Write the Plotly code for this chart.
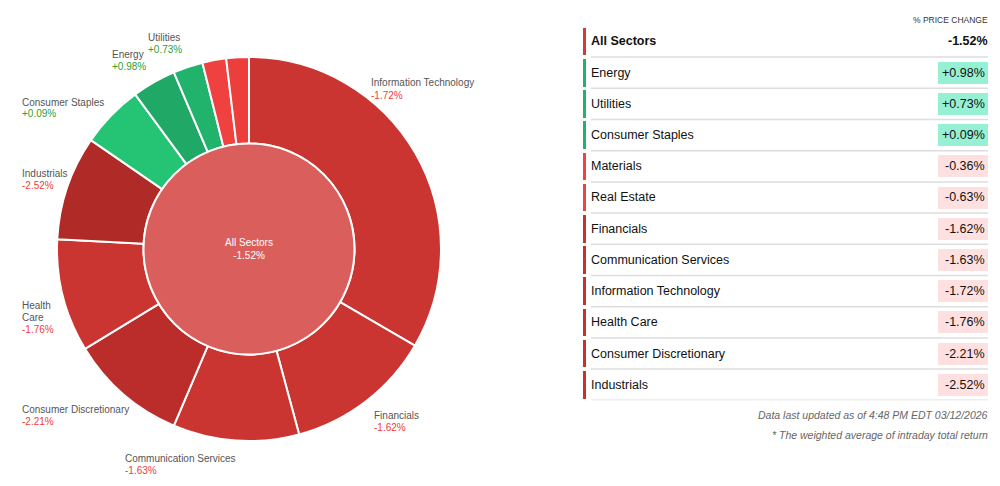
import plotly.graph_objects as go

# ---------------- data ----------------
SECTORS = ["Information Technology", "Financials", "Communication Services",
           "Consumer Discretionary", "Health Care", "Industrials",
           "Consumer Staples", "Energy", "Utilities", "Materials", "Real Estate"]
WEIGHTS = [33.4, 12.4, 10.6, 9.9, 9.5, 8.8, 5.3, 3.7, 2.5, 2.0, 1.9]
CHANGES = [-1.72, -1.62, -1.63, -2.21, -1.76, -2.52, 0.09, 0.98, 0.73, -0.36, -0.63]
TOTAL_LABEL = "All Sectors"
TOTAL_CHANGE = -1.52
HEADER = "% PRICE CHANGE"
FOOTNOTES = ["Data last updated as of 4:48 PM EDT 03/12/2026",
             "* The weighted average of intraday total return"]

# ---------------- styles ----------------
W, H = 1000, 486
FONT = "Liberation Sans, Arial, sans-serif"
RING_COLORS = {
    "Information Technology": "#CA3431", "Financials": "#CA3431",
    "Communication Services": "#CA3431", "Consumer Discretionary": "#BB2D2A",
    "Health Care": "#CA3431", "Industrials": "#B02A28",
    "Consumer Staples": "#24C474", "Energy": "#1FA866", "Utilities": "#21B36C",
    "Materials": "#F04141", "Real Estate": "#EC3E3B",
}
CENTER_COLOR = "#DA5F5C"
# label anchor (left x, y of name line) in pixels
LABEL_POS = {
    "Information Technology": (371, 83), "Financials": (374, 415),
    "Communication Services": (125, 458), "Consumer Discretionary": (22, 409),
    "Health Care": (22, 305), "Industrials": (22, 173),
    "Consumer Staples": (22, 102), "Energy": (112, 55), "Utilities": (148, 38),
}
CX, CY, R_OUT, R_IN = 249, 249, 192, 105.5
PAD = 2  # annotation inner padding compensation


def px(x):
    return x / W


def py(y):
    return 1 - y / H


def fmt(v):
    return ("+" if v > 0 else "") + f"{v:.2f}%"


fig = go.Figure()

# outer ring
fig.add_trace(go.Pie(
    labels=SECTORS, values=WEIGHTS, sort=False, direction="clockwise", rotation=0,
    hole=R_IN / R_OUT, textinfo="none", hoverinfo="label+percent",
    marker=dict(colors=[RING_COLORS[s] for s in SECTORS], line=dict(color="white", width=2)),
    domain=dict(x=[px(CX - R_OUT), px(CX + R_OUT)], y=[py(CY + R_OUT), py(CY - R_OUT)]),
    showlegend=False,
))
# center circle
fig.add_trace(go.Pie(
    labels=[TOTAL_LABEL], values=[1], sort=False, textinfo="text",
    text=[f"{TOTAL_LABEL}<br>{fmt(TOTAL_CHANGE)}"], textposition="inside",
    insidetextfont=dict(color="white", size=10, family=FONT),
    marker=dict(colors=[CENTER_COLOR], line=dict(color="white", width=2)),
    domain=dict(x=[px(CX - R_IN), px(CX + R_IN)], y=[py(CY + R_IN), py(CY - R_IN)]),
    showlegend=False, hoverinfo="text",
))

annotations = []
for s, c in zip(SECTORS, CHANGES):
    if s not in LABEL_POS:
        continue
    lx, ly = LABEL_POS[s]
    lines = s.split(" ") if s == "Health Care" else [s]
    for k, ln in enumerate(lines):
        annotations.append(dict(x=px(lx - PAD), y=py(ly + 12 * k), xref="paper", yref="paper",
                                text=ln, showarrow=False, xanchor="left", yanchor="middle",
                                font=dict(size=10, color="#555555", family=FONT)))
    annotations.append(dict(x=px(lx - PAD), y=py(ly + 12 * len(lines)), xref="paper",
                            yref="paper", text=fmt(c), showarrow=False, xanchor="left",
                            yanchor="middle",
                            font=dict(size=10, color="#2EA02E" if c > 0 else "#F03C3C",
                                      family=FONT)))

# ---------------- table ----------------
rows = sorted(zip(SECTORS, CHANGES), key=lambda t: -t[1])
row_names = [TOTAL_LABEL] + [r[0] for r in rows]
row_vals = [TOTAL_CHANGE] + [r[1] for r in rows]
n = len(row_names)
idx = list(range(n))


def strip_color(i, v):
    if i == 0:
        return "#D43A3A"
    if v > 0:
        return "#21B36B"
    if v > -1:
        return "#EF4343"
    return "#C9302E"


# row separators
sx, sy = [], []
for i in idx:
    sx += [8, 405, None]
    sy += [i + 0.5, i + 0.5, None]
fig.add_trace(go.Scatter(x=sx, y=sy, mode="lines", line=dict(color="#DDDDDD", width=1.5),
                         xaxis="x2", yaxis="y2", hoverinfo="skip", showlegend=False))
# left strips
fig.add_trace(go.Bar(y=idx, x=[3] * n, base=0, orientation="h", width=0.89,
                     marker=dict(color=[strip_color(i, v) for i, v in zip(idx, row_vals)],
                                 line=dict(width=0)),
                     xaxis="x2", yaxis="y2", hoverinfo="skip", showlegend=False))
# value badges
fig.add_trace(go.Bar(y=idx[1:], x=[50] * (n - 1), base=355, orientation="h", width=0.7,
                     marker=dict(color=["#96F0D4" if v > 0 else "#FFE0E0" for v in row_vals[1:]],
                                 line=dict(width=0)),
                     xaxis="x2", yaxis="y2", hoverinfo="skip", showlegend=False))

for i, (nm, v) in enumerate(zip(row_names, row_vals)):
    bold = i == 0
    annotations.append(dict(x=8 - PAD, y=i, xref="x2", yref="y2", showarrow=False,
                            xanchor="left", yanchor="middle",
                            text=f"<b>{nm}</b>" if bold else nm,
                            font=dict(size=12.5, color="#111111", family=FONT)))
    annotations.append(dict(x=(402 if not bold else 405) + PAD, y=i, xref="x2", yref="y2",
                            showarrow=False, xanchor="right", yanchor="middle",
                            text=f"<b>{fmt(v)}</b>" if bold else fmt(v),
                            font=dict(size=12.5, color="#111111", family=FONT)))

annotations.append(dict(x=px(988 + PAD), y=py(20), xref="paper", yref="paper", text=HEADER,
                        showarrow=False, xanchor="right", yanchor="middle",
                        font=dict(size=8.5, color="#333333", family=FONT)))
for k, t in enumerate(FOOTNOTES):
    annotations.append(dict(x=px(988 + PAD), y=py(415 + 20 * k), xref="paper", yref="paper",
                            text=f"<i>{t}</i>", showarrow=False, xanchor="right",
                            yanchor="middle",
                            font=dict(size=10.5, color="#666666", family=FONT)))

row0, pitch = 41.5, 31.2
fig.update_layout(
    width=W, height=H, margin=dict(l=0, r=0, t=0, b=0),
    paper_bgcolor="white", plot_bgcolor="white",
    font=dict(family=FONT),
    annotations=annotations,
    bargap=0, barmode="overlay",
    xaxis2=dict(domain=[px(583), px(995)], range=[0, 412], visible=False, fixedrange=True),
    yaxis2=dict(domain=[py(row0 + pitch * (n - 1) + pitch / 2), py(row0 - pitch / 2)],
                range=[n - 0.5, -0.5], visible=False, fixedrange=True, anchor="x2"),
)
fig.update_layout(xaxis2_anchor="y2")

fig.write_html("out.html")
